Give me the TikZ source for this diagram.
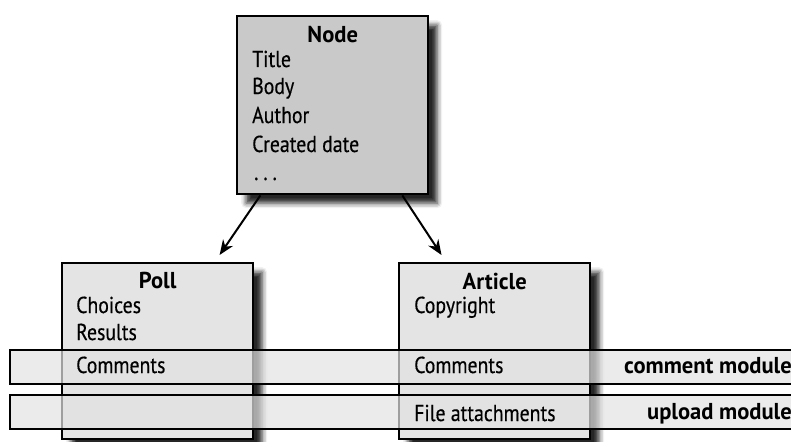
\documentclass[tikz,border=0pt]{standalone}
\usepackage{fontspec}
\setmainfont[UprightFeatures={FakeStretch=0.86, FakeBold=0.4},
  BoldFeatures={FakeStretch=0.98}]{PT Sans}
\usetikzlibrary{arrows.meta,shadows.blur,calc}
\definecolor{nodegray}{HTML}{C9C9C9}
\definecolor{boxgray}{HTML}{E4E4E4}
\definecolor{bandgray}{HTML}{E2E2E2}
\begin{document}
\begin{tikzpicture}[x=1pt,y=-1pt,
  entity/.style={draw, line width=2.4pt, anchor=north west, inner sep=0pt,
    minimum width=191pt,
    blur shadow={shadow xshift=9pt, shadow yshift=-9pt,
      shadow blur radius=5pt, shadow opacity=85}},
  band/.style={draw, line width=2.4pt, fill=bandgray, fill opacity=0.7,
    anchor=north west, inner sep=0pt, minimum width=800pt},
  txt/.style={anchor=base west, inner sep=0pt, font=\fontsize{23}{27}\selectfont},
  ttl/.style={anchor=base, inner sep=0pt, font=\fontsize{23}{27}\selectfont\bfseries},
  link/.style={-{Stealth[length=15pt,width=12pt]}, line width=2pt}]
\useasboundingbox (0,0) rectangle (791,441);

% entity boxes
\node[entity, fill=nodegray, minimum height=178pt] (node) at (236,15) {};
\node[entity, fill=boxgray, minimum height=176pt] (poll) at (61,262) {};
\node[entity, fill=boxgray, minimum height=176pt] (article) at (398,262) {};

% inheritance arrows
\draw[link] ($(node.south west)!0.126!(node.south east)$)
  -- ($(poll.north west)!0.82!(poll.north east)+(0,-7)$);
\draw[link] ($(node.south west)!0.86!(node.south east)$)
  -- ($(article.north west)!0.225!(article.north east)+(0,-7)$);

% module bands crossing both content types
\node[band, minimum height=34pt] (cband) at (9,349) {};
\node[band, minimum height=34pt] (uband) at (9,394) {};

% Node fields
\node[ttl] at (node.north |- 0,43) {Node};
\node[txt] at (252,67) {Title};
\node[txt] at (252,94) {Body};
\node[txt] at (252,123) {Author};
\node[txt] at (252,152) {Created date};
\node[txt] at (254,180) {.\hspace{5pt}.\hspace{5pt}.};

% Poll fields
\node[ttl] at (poll.north |- 0,288) {Poll};
\node[txt] at (76,313) {Choices};
\node[txt] at (76,340) {Results};
\node[txt] at (76,373) {Comments};

% Article fields
\node[ttl] at (article.north |- 0,289) {Article};
\node[txt] at (414,313) {Copyright};
\node[txt] at (414,373) {Comments};
\node[txt] at (414,421) {File attachments};

% module labels
\node[ttl, anchor=base east] at (792,373) {comment module};
\node[ttl, anchor=base east] at (792,419) {upload module};
\end{tikzpicture}
\end{document}
